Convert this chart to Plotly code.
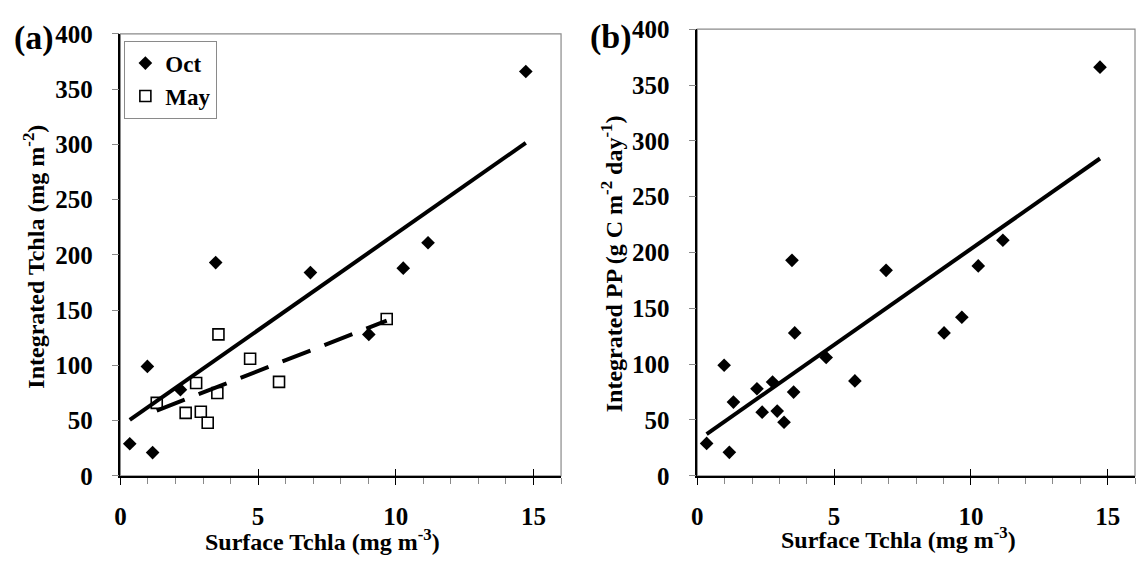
import numpy as np
import plotly.graph_objects as go

# Surface vs integrated values, October and May cruises
oct_x = [0.34, 0.98, 1.17, 2.18, 3.46, 6.90, 9.02, 10.27, 11.17, 14.72]
oct_y = [29, 99, 21, 78, 193, 184, 128, 188, 211, 366]
may_x = [1.32, 2.37, 2.75, 2.92, 3.17, 3.52, 3.56, 4.71, 5.76, 9.67]
may_y = [66, 57, 84, 58, 48, 75, 128, 106, 85, 142]

x_ticks = [0, 5, 10, 15]
y_ticks = [0, 50, 100, 150, 200, 250, 300, 350, 400]

W, H = 1136, 566
FONT = "Liberation Serif"
GRAY = "#8a8a8a"


def fit_line(xs, ys):
    k, b = np.polyfit(xs, ys, 1)
    xx = np.array([min(xs), max(xs)])
    return xx, k * xx + b


fig = go.Figure()

# panel (a)
fig.add_trace(go.Scatter(x=oct_x, y=oct_y, mode="markers", name="Oct",
                         marker=dict(symbol="diamond", size=10.5, color="black"),
                         xaxis="x", yaxis="y"))
fig.add_trace(go.Scatter(x=may_x, y=may_y, mode="markers", name="May",
                         marker=dict(symbol="square-open", size=11, color="black",
                                     line=dict(width=1.6, color="black")),
                         xaxis="x", yaxis="y"))
lx, ly = fit_line(oct_x, oct_y)
fig.add_trace(go.Scatter(x=lx, y=ly, mode="lines", showlegend=False,
                         line=dict(color="black", width=4), xaxis="x", yaxis="y"))
lx, ly = fit_line(may_x, may_y)
fig.add_trace(go.Scatter(x=lx, y=ly, mode="lines", showlegend=False,
                         line=dict(color="black", width=4, dash="30px,15px"),
                         xaxis="x", yaxis="y"))

# panel (b): both cruises pooled
all_x = oct_x + may_x
all_y = oct_y + may_y
fig.add_trace(go.Scatter(x=all_x, y=all_y, mode="markers", showlegend=False,
                         marker=dict(symbol="diamond", size=10.5, color="black"),
                         xaxis="x2", yaxis="y2"))
lx, ly = fit_line(all_x, all_y)
fig.add_trace(go.Scatter(x=lx, y=ly, mode="lines", showlegend=False,
                         line=dict(color="black", width=4), xaxis="x2", yaxis="y2"))

# empty traces so the overlay tick axes are drawn
fig.add_trace(go.Scatter(x=[], y=[], showlegend=False, xaxis="x3", yaxis="y"))
fig.add_trace(go.Scatter(x=[], y=[], showlegend=False, xaxis="x4", yaxis="y2"))

tickfont = dict(family=FONT, size=25, color="black", weight="bold")

xcommon = dict(range=[0, 16], tickvals=x_ticks, ticks="outside", ticklen=7,
               tickcolor="black", tickwidth=1.3, showline=True, linecolor="black",
               linewidth=1.5, showgrid=False, zeroline=False, tickfont=tickfont,
               ticklabelstandoff=10,
               minor=dict(dtick=1, ticks="outside", ticklen=6, tickcolor=GRAY,
                          tickwidth=1, showgrid=False))
ycommon = dict(range=[0, 400], tickvals=y_ticks, ticks="outside", ticklen=7,
               tickcolor=GRAY, tickwidth=1, showline=True, linecolor="black",
               linewidth=1.5, showgrid=False, zeroline=False, tickfont=tickfont,
               ticklabelstandoff=14)
overlay = dict(range=[0, 16], tickvals=x_ticks, ticks="inside", ticklen=7,
               tickcolor="black", tickwidth=1.3, showticklabels=False,
               showline=False, showgrid=False, zeroline=False)

y_bottom = 1 - 486 / H
fig.update_layout(
    width=W, height=H,
    margin=dict(l=0, r=0, t=0, b=0),
    paper_bgcolor="white", plot_bgcolor="white",
    font=dict(family=FONT, color="black"),
    xaxis=dict(domain=[115 / W, 558 / W], anchor="y", **xcommon),
    yaxis=dict(domain=[y_bottom, 1 - 22 / H], anchor="x", **ycommon),
    xaxis2=dict(domain=[695 / W, 1135 / W], anchor="y2", **xcommon),
    yaxis2=dict(domain=[y_bottom, 1 - 17 / H], anchor="x2", **ycommon),
    xaxis3=dict(overlaying="x", anchor="y", side="bottom", **overlay),
    xaxis4=dict(overlaying="x2", anchor="y2", side="bottom", **overlay),
    legend=dict(x=119 / W, y=1 - 29 / H, xanchor="left", yanchor="top",
                bgcolor="white", bordercolor=GRAY, borderwidth=1,
                font=dict(family=FONT, size=23, color="black", weight="bold"),
                itemwidth=30, tracegroupgap=0),
    shapes=[
        dict(type="rect", xref="x domain", yref="y domain", x0=0, x1=1, y0=0, y1=1,
             line=dict(color=GRAY, width=1.2), layer="below"),
        dict(type="rect", xref="x2 domain", yref="y2 domain", x0=0, x1=1, y0=0, y1=1,
             line=dict(color=GRAY, width=1.2), layer="below"),
    ],
)

title_font = dict(family=FONT, size=24, color="black", weight="bold")
panel_font = dict(family=FONT, size=34, color="black", weight="bold")
fig.add_annotation(text="Surface Tchla (mg m<sup>-3</sup>)", xref="paper", yref="paper",
                   x=318 / W, y=1 - 553 / H, showarrow=False, font=title_font,
                   xanchor="center", yanchor="middle")
fig.add_annotation(text="Surface Tchla (mg m<sup>-3</sup>)", xref="paper", yref="paper",
                   x=897 / W, y=1 - 551 / H, showarrow=False, font=title_font,
                   xanchor="center", yanchor="middle")
fig.add_annotation(text="Integrated Tchla (mg m<sup>-2</sup>)", xref="paper", yref="paper",
                   x=28 / W, y=1 - 256 / H, showarrow=False, font=title_font,
                   textangle=-90, xanchor="center", yanchor="middle")
fig.add_annotation(text="Integrated PP (g C m<sup>-2</sup> day<sup>-1</sup>)",
                   xref="paper", yref="paper", x=610 / W, y=1 - 263 / H,
                   showarrow=False, font=title_font, textangle=-90,
                   xanchor="center", yanchor="middle")
fig.add_annotation(text="(a)", xref="paper", yref="paper", x=6 / W, y=1 - 26 / H,
                   showarrow=False, font=panel_font, xanchor="left", yanchor="middle")
fig.add_annotation(text="(b)", xref="paper", yref="paper", x=585 / W, y=1 - 25 / H,
                   showarrow=False, font=panel_font, xanchor="left", yanchor="middle")

fig.write_html("out.html")
